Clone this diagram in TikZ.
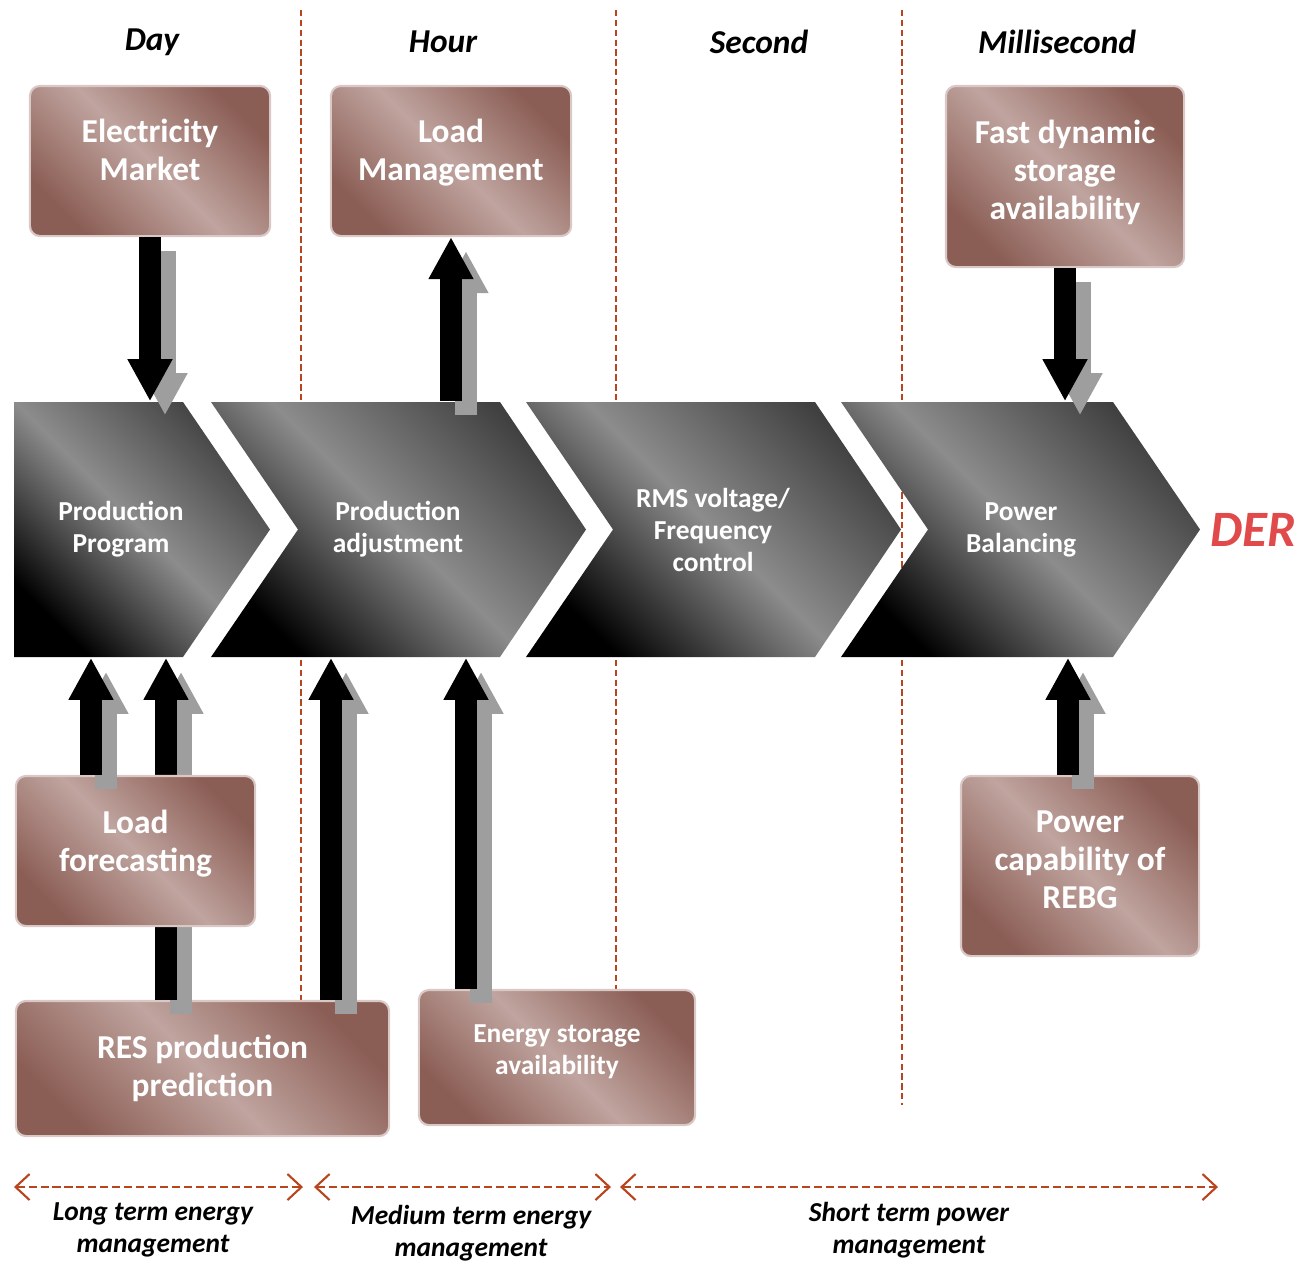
\documentclass[tikz,border=0pt]{standalone}
\usepackage{fontspec}
\setmainfont{Carlito}
\usetikzlibrary{arrows.meta,calc}
\definecolor{boxdark}{HTML}{8B5E55}
\definecolor{boxlight}{HTML}{C0A49F}
\definecolor{linered}{HTML}{B8451E}
\definecolor{derred}{HTML}{E04A4A}

\begin{document}
\begin{tikzpicture}[x=0.01cm, y=-0.01cm,
    infobox/.style={rounded corners=0.1cm, left color=boxdark, right color=boxdark, middle color=boxlight, shading angle=135, draw=boxlight!60!white, line width=0.6pt, inner sep=0pt},
    boxtext/.style={text=white, align=center, font=\fontsize{9.5}{10.8}\selectfont\bfseries, inner sep=0pt},
    chevron/.style={left color=black, right color=black!75, middle color=black!45, shading angle=135},
    chevtext/.style={text=white, align=center, font=\fontsize{7.8}{9.1}\selectfont\bfseries, minimum height=2.55cm, inner sep=0pt},
    timehead/.style={font=\fontsize{9.5}{11}\selectfont\bfseries\itshape},
    termtext/.style={align=center, font=\fontsize{7.8}{9.1}\selectfont\bfseries\itshape},
    bigarrow/.style={line width=2.2mm, -{Triangle[width=4.2mm, length=4.2mm]}},
    arrowshadow/.style={bigarrow, black!38, transform canvas={shift={(15,14)}}},
    timeline/.style={linered, line width=0.45pt, dash pattern=on 1.8pt off 1pt},
    termarrow/.style={linered, line width=0.6pt, dash pattern=on 2.3pt off 1.1pt, {Straight Barb[length=1.4mm, width=2.6mm]}-{Straight Barb[length=1.4mm, width=2.6mm]}}
]
        \useasboundingbox (0,0) rectangle (1301,1263);

        %time frames
        \foreach \x in {301,616,902} \draw[timeline] (\x,10) -- (\x,1105);
        \node[timehead] (day) at (152,42) {Day};
        \node[timehead] (hour) at (443,42) {Hour};
        \node[timehead] (second) at (759,42) {Second};
        \node[timehead] (msec) at (1057,42) {Millisecond};

        %chevrons
        \shade[chevron] (14,402) -- (183,402) -- (270,529.5) -- (183,657) -- (14,657) -- cycle;
        \shade[chevron] (211,402) -- (500,402) -- (586,529.5) -- (500,657) -- (211,657) -- (298,529.5) -- cycle;
        \shade[chevron] (526,402) -- (815,402) -- (901,529.5) -- (815,657) -- (526,657) -- (613,529.5) -- cycle;
        \shade[chevron] (841,402) -- (1113,402) -- (1200,529.5) -- (1113,657) -- (841,657) -- (928,529.5) -- cycle;
        \node[chevtext] (prog) at (121,529.5) {Production\\Program};
        \node[chevtext] (adj) at (398,529.5) {Production\\adjustment};
        \node[chevtext] (rms) at (713,529.5) {RMS voltage/\\Frequency\\control};
        \node[chevtext] (bal) at (1021,529.5) {Power\\Balancing};
        \node[text=derred, font=\fontsize{14.5}{16}\selectfont\bfseries\itshape] (der) at (1253,530) {DER};

        %boxes
        \node[infobox, minimum width=2.4cm, minimum height=1.5cm] (market) at (150,161) {};
        \node[boxtext] (markettext) at ([yshift=1.1mm]market.center) {Electricity\\Market};
        \node[infobox, minimum width=2.4cm, minimum height=1.5cm] (loadman) at (451,161) {};
        \node[boxtext] (loadmantext) at ([yshift=0.8mm]loadman.center) {Load\\Management};
        \node[infobox, minimum width=2.38cm, minimum height=1.81cm] (faststore) at (1065,176.5) {};
        \node[boxtext] (faststoretext) at ([yshift=0.4mm]faststore.center) {Fast dynamic\\storage\\availability};
        \node[infobox, minimum width=3.73cm, minimum height=1.35cm] (resprod) at (202.5,1068.5) {};
        \node[boxtext] (resprodtext) at (resprod.center) {RES production\\prediction};
        \node[infobox, minimum width=2.76cm, minimum height=1.35cm] (storage) at (557,1057.5) {};
        \node[boxtext, font=\fontsize{7.8}{9.1}\selectfont\bfseries] (storagetext) at ([yshift=0.6mm]storage.center) {Energy storage\\availability};
        \node[infobox, minimum width=2.38cm, minimum height=1.8cm] (capab) at (1080,866) {};
        \node[boxtext] (capabtext) at ([yshift=0.6mm]capab.center) {Power\\capability of\\REBG};

        %arrows
        \coordinate (resout1) at ($(resprod.north)+(-36.5,0)$);
        \coordinate (resout2) at ($(resprod.north)+(128.5,0)$);
        \coordinate (stout) at ($(storage.north)+(-91,0)$);
        \coordinate (capout) at ($(capab.north)+(-12,0)$);
        \draw[arrowshadow] (resout1) -- (resout1 |- prog.south);
        \draw[bigarrow] (resout1) -- (resout1 |- prog.south);

        \node[infobox, minimum width=2.39cm, minimum height=1.5cm] (forecast) at (135.5,851) {};
        \node[boxtext] (forecasttext) at ([yshift=0.7mm]forecast.center) {Load\\forecasting};
        \coordinate (fcout) at ($(forecast.north)+(-44.5,0)$);

        \draw[arrowshadow] (market.south) -- (market.south |- prog.north);
        \draw[bigarrow] (market.south) -- (market.south |- prog.north);
        \draw[arrowshadow] (loadman.south |- adj.north) -- (loadman.south);
        \draw[bigarrow] (loadman.south |- adj.north) -- (loadman.south);
        \draw[arrowshadow] (faststore.south) -- (faststore.south |- bal.north);
        \draw[bigarrow] (faststore.south) -- (faststore.south |- bal.north);
        \draw[arrowshadow] (fcout) -- (fcout |- prog.south);
        \draw[bigarrow] (fcout) -- (fcout |- prog.south);
        \draw[arrowshadow] (resout2) -- (resout2 |- adj.south);
        \draw[bigarrow] (resout2) -- (resout2 |- adj.south);
        \draw[arrowshadow] (stout) -- (stout |- adj.south);
        \draw[bigarrow] (stout) -- (stout |- adj.south);
        \draw[arrowshadow] (capout) -- (capout |- bal.south);
        \draw[bigarrow] (capout) -- (capout |- bal.south);

        %time scales
        \coordinate (long0) at (14,1187);
        \coordinate (long1) at (303,1187);
        \coordinate (med0) at (314,1187);
        \coordinate (med1) at (611,1187);
        \coordinate (short0) at (620,1187);
        \coordinate (short1) at (1218,1187);
        \draw[termarrow] (long0) -- (long1);
        \draw[termarrow] (med0) -- (med1);
        \draw[termarrow] (short0) -- (short1);
        \node[termtext] (longterm) at (153,1230) {Long term energy\\management};
        \node[termtext] (medterm) at (471,1233) {Medium term energy\\management};
        \node[termtext] (shortterm) at (909,1230) {Short term power\\management};
    \end{tikzpicture}
\end{document}
